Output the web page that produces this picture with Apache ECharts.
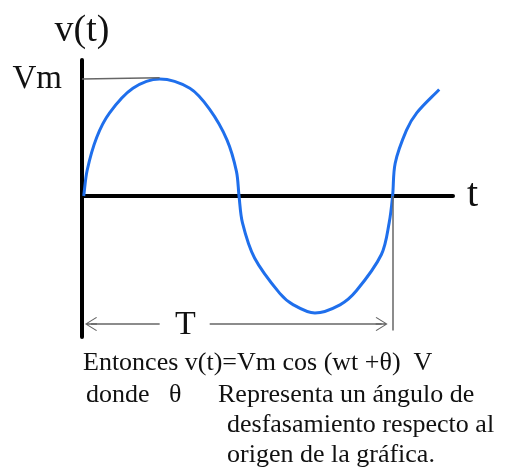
<!DOCTYPE html>
<html>
<head>
<meta charset="utf-8">
<script src="https://cdn.jsdelivr.net/npm/echarts@6/dist/echarts.min.js"></script>
<style>
  html, body { margin: 0; padding: 0; background: #fff; }
  #chart { width: 505px; height: 473px; }
</style>
</head>
<body>
<div id="chart"></div>
<script>
// wave: x in degrees of one period (T = 360), y in units of Vm
const waveX = [2, 6, 17, 32, 59, 90, 125, 148, 168, 179, 182, 186, 200, 229, 245, 270, 299, 318, 347, 356, 360, 363, 376, 388, 414];
const waveY = [0, 0.22, 0.5, 0.71, 0.92, 1, 0.92, 0.74, 0.48, 0.21, 0, -0.23, -0.53, -0.83, -0.93, -1, -0.93, -0.81, -0.5, -0.23, 0, 0.28, 0.56, 0.71, 0.91];
const noteLines = [
  "Entonces v(t)=Vm cos (wt +θ)  V",
  "donde",
  "θ",
  "Representa un ángulo de",
  "desfasamiento respecto al",
  "origen de la gráfica."
];

const serif = "'Liberation Serif', 'Times New Roman', serif";
const ink = "#111";
const grey = "#666";
const chevron = "path://M0,0 L10,15 L9,16 L1,4 L1,16 L-1,16 L-1,4 L-9,16 L-10,15 Z";
const arrowY = -1.094;

const chart = echarts.init(document.getElementById("chart"));

function note(text, x, y) {
  return { type: "text", x: x, y: y, style: { text: text, font: "26px " + serif, fill: ink, verticalAlign: "middle" } };
}

function unit(a, b) {
  const dx = b[0] - a[0], dy = b[1] - a[1];
  const len = Math.sqrt(dx * dx + dy * dy) || 1;
  return [dx / len, dy / len];
}

// smooth curve through the points once the axes have placed them
function renderWave(params, api) {
  if (params.dataIndex !== 0) return null;
  const p = waveX.map((x, i) => api.coord([x, waveY[i]]));
  const n = p.length;
  const tan = p.map((pt, i) => unit(p[Math.max(i - 1, 0)], p[Math.min(i + 1, n - 1)]));
  let d = "M" + p[0][0] + "," + p[0][1];
  for (let i = 0; i < n - 1; i++) {
    const a = p[i], b = p[i + 1];
    const k = Math.sqrt((b[0] - a[0]) ** 2 + (b[1] - a[1]) ** 2) / 3;
    d += " C" + (a[0] + tan[i][0] * k) + "," + (a[1] + tan[i][1] * k) + " " +
      (b[0] - tan[i + 1][0] * k) + "," + (b[1] - tan[i + 1][1] * k) + " " + b[0] + "," + b[1];
  }
  return {
    type: "path",
    shape: { pathData: d },
    style: { stroke: "#1f6fec", lineWidth: 3, fill: null }
  };
}

const option = {
  backgroundColor: "#fff",
  animation: false,
  grid: { left: 82, right: 52, top: 60, bottom: 136 },
  xAxis: {
    type: "value",
    min: 0,
    max: 430,
    name: "t",
    nameLocation: "end",
    nameGap: 14,
    nameTextStyle: { fontFamily: serif, fontSize: 40, color: ink, verticalAlign: "middle" },
    axisLine: { onZero: true, lineStyle: { color: "#000", width: 4 } },
    axisTick: { show: false },
    axisLabel: { show: false },
    splitLine: { show: false }
  },
  yAxis: {
    type: "value",
    min: -1.205,
    max: 1.162,
    name: "v(t)",
    nameLocation: "end",
    nameGap: 10,
    nameTextStyle: { fontFamily: serif, fontSize: 38, color: ink },
    axisLine: { show: true, lineStyle: { color: "#000", width: 4 } },
    axisTick: { show: false },
    splitLine: { show: false },
    axisLabel: {
      customValues: [1],
      formatter: () => "Vm",
      margin: 20,
      padding: [0, 0, 12, 0],
      fontFamily: serif,
      fontSize: 33,
      color: ink
    }
  },
  series: [
    {
      type: "custom",
      coordinateSystem: "cartesian2d",
      data: waveX.map((x, i) => [x, waveY[i]]),
      encode: { x: 0, y: 1 },
      renderItem: renderWave,
      markLine: {
        silent: true,
        symbol: "none",
        label: { show: false },
        lineStyle: { color: grey, width: 1.5, type: "solid" },
        data: [
          [{ coord: [0, 1] }, { coord: [90, 1.01] }],
          [{ coord: [360, 0] }, { coord: [360, -1.15] }],
          [
            { coord: [10.4, arrowY], symbol: chevron, symbolSize: [14, 12] },
            { coord: [90, arrowY], symbol: "none" }
          ],
          [
            { coord: [148, arrowY], symbol: "none" },
            { coord: [347.3, arrowY], symbol: chevron, symbolSize: [14, 12] }
          ]
        ]
      }
    }
  ],
  graphic: [
    {
      type: "text",
      left: 175,
      top: 308,
      style: { text: "T", font: "34px " + serif, fill: ink }
    },
    note(noteLines[0], 83, 363),
    note(noteLines[1], 86, 395),
    note(noteLines[2], 169, 395),
    note(noteLines[3], 218, 395),
    note(noteLines[4], 227, 425),
    note(noteLines[5], 227, 455)
  ]
};

chart.setOption(option);
window.addEventListener("resize", () => chart.resize());
</script>
</body>
</html>
